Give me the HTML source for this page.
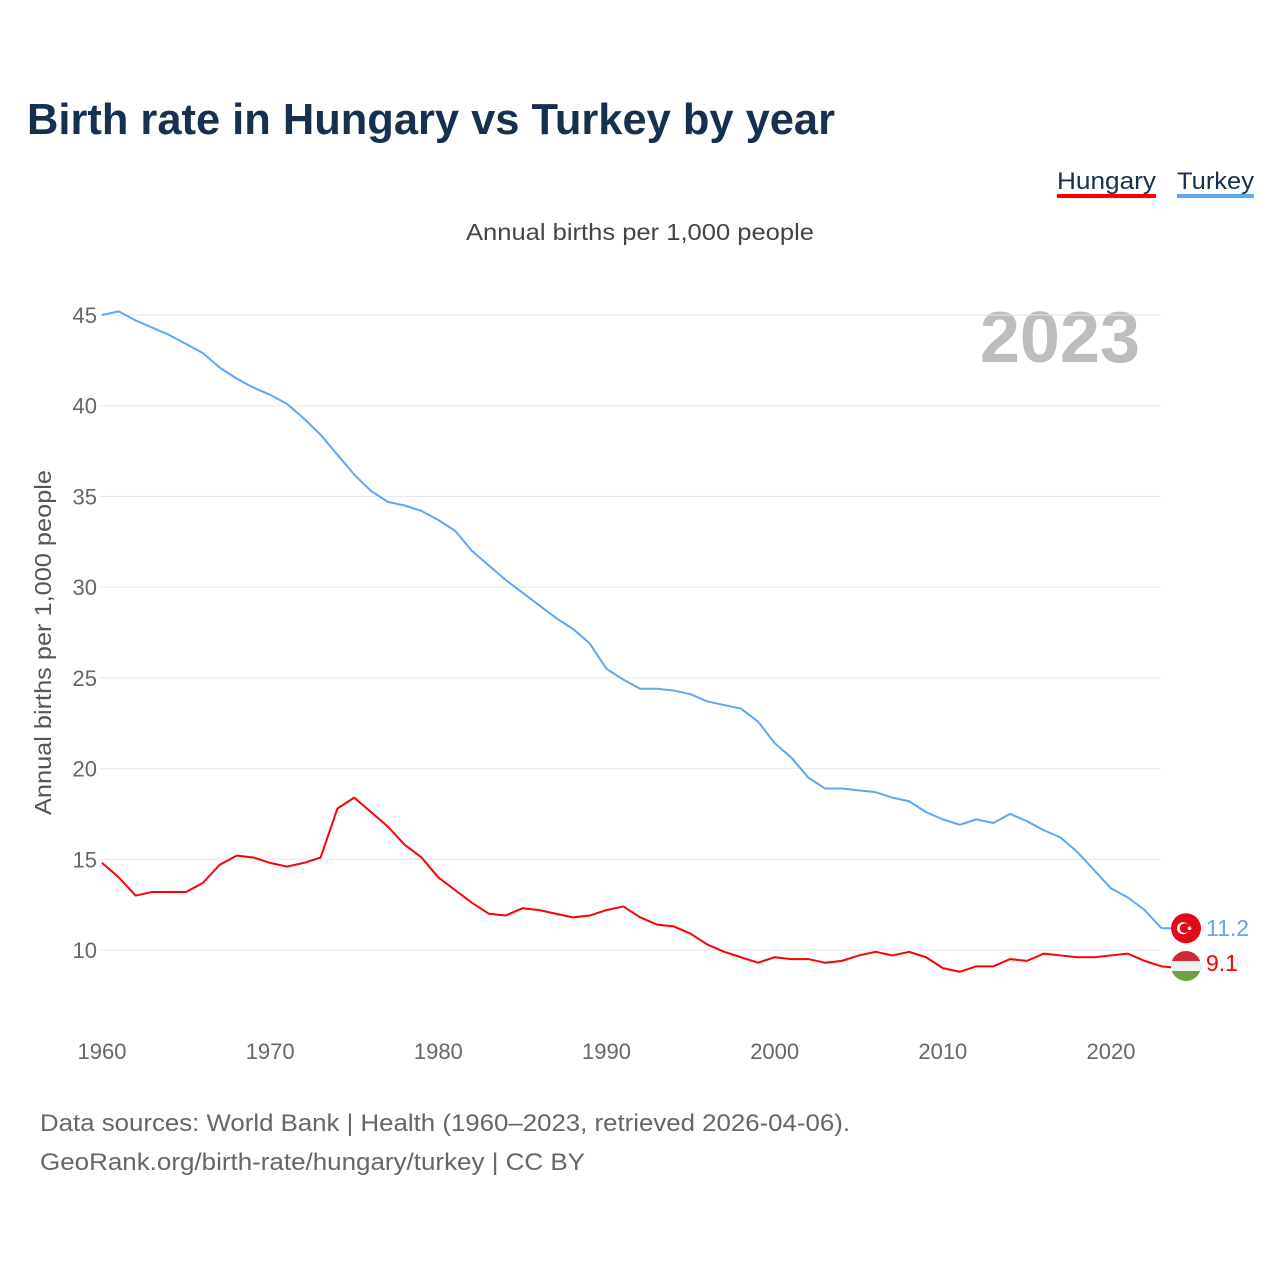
<!DOCTYPE html>
<html><head><meta charset="utf-8"><style>
body{margin:0;background:#fff;font-family:"Liberation Sans",sans-serif;}
svg text{font-family:"Liberation Sans",sans-serif;}
</style></head><body>
<svg width="1280" height="1280" viewBox="0 0 1280 1280" id="chart">
<text x="27" y="134" font-size="44" font-weight="bold" fill="#17304f" textLength="808" lengthAdjust="spacingAndGlyphs">Birth rate in Hungary vs Turkey by year</text>
<g>
<text x="1057" y="189" font-size="24" fill="#17304f" textLength="99" lengthAdjust="spacingAndGlyphs">Hungary</text>
<rect x="1057" y="194" width="99" height="4" fill="#ff0000"/>
<text x="1177" y="189" font-size="24" fill="#17304f" textLength="77" lengthAdjust="spacingAndGlyphs">Turkey</text>
<rect x="1177" y="194" width="77" height="4" fill="#5da8ee"/>
</g>
<text x="466" y="240" font-size="23" fill="#444" textLength="348" lengthAdjust="spacingAndGlyphs">Annual births per 1,000 people</text>
<text x="1140" y="362" font-size="72" font-weight="bold" fill="#bdbdbd" text-anchor="end">2023</text>
<text transform="translate(51,815) rotate(-90)" font-size="23" fill="#555" textLength="345" lengthAdjust="spacingAndGlyphs">Annual births per 1,000 people</text>
<g id="grid"></g><g id="ylab"></g><g id="xlab"></g><g id="lines"></g><g id="ends"></g>
<text x="40" y="1131" font-size="24" fill="#666" textLength="810" lengthAdjust="spacingAndGlyphs">Data sources: World Bank | Health (1960–2023, retrieved 2026-04-06).</text>
<text x="40" y="1170" font-size="24" fill="#666" textLength="545" lengthAdjust="spacingAndGlyphs">GeoRank.org/birth-rate/hungary/turkey | CC BY</text>
</svg>
<script>
const years=[];for(let y=1960;y<=2023;y++)years.push(y);
const turkey=[45.0,45.2,44.7,44.3,43.9,43.4,42.9,42.1,41.5,41.0,40.6,40.1,39.3,38.4,37.3,36.2,35.3,34.7,34.5,34.2,33.7,33.1,32.0,31.2,30.4,29.7,29.0,28.3,27.7,26.9,25.5,24.9,24.4,24.4,24.3,24.1,23.7,23.5,23.3,22.6,21.4,20.6,19.5,18.9,18.9,18.8,18.7,18.4,18.2,17.6,17.2,16.9,17.2,17.0,17.5,17.1,16.6,16.2,15.4,14.4,13.4,12.9,12.2,11.2];
const hungary=[14.8,14.0,13.0,13.2,13.2,13.2,13.7,14.7,15.2,15.1,14.8,14.6,14.8,15.1,17.8,18.4,17.6,16.8,15.8,15.1,14.0,13.3,12.6,12.0,11.9,12.3,12.2,12.0,11.8,11.9,12.2,12.4,11.8,11.4,11.3,10.9,10.3,9.9,9.6,9.3,9.6,9.5,9.5,9.3,9.4,9.7,9.9,9.7,9.9,9.6,9.0,8.8,9.1,9.1,9.5,9.4,9.8,9.7,9.6,9.6,9.7,9.8,9.4,9.1];
const yTicks=[10,15,20,25,30,35,40,45];
const xTicks=[1960,1970,1980,1990,2000,2010,2020];
const NS='http://www.w3.org/2000/svg';
const xs=y=>102+(y-1960)*(1111-102)/60;
const ys=v=>950-(v-10)*(635/35);
function mk(t,a,p){const e=document.createElementNS(NS,t);for(const k in a)e.setAttribute(k,a[k]);p.appendChild(e);return e;}
const G=document.getElementById('grid'),YL=document.getElementById('ylab'),XL=document.getElementById('xlab'),L=document.getElementById('lines'),E=document.getElementById('ends');
yTicks.forEach(t=>{
 const l=mk('line',{x1:100,x2:1161,y1:ys(t),y2:ys(t),stroke:'#e6e6e6','stroke-width':1},G);
 
 
 const tx=mk('text',{x:97,y:ys(t)+8,'font-size':22,fill:'#666','text-anchor':'end'},YL);tx.textContent=t;
 
 
});
xTicks.forEach(t=>{
 const tx=mk('text',{x:xs(t),y:1059,'font-size':22,fill:'#666','text-anchor':'middle'},XL);tx.textContent=t;
 
 
});
function line(d,c,n){const p=mk('polyline',{points:d.map((v,i)=>xs(years[i])+','+ys(v)).join(' '),fill:'none',stroke:c,'stroke-width':2,'stroke-linejoin':'round'},L);
 
 }
line(turkey,'#5da8ee','turkey-line');line(hungary,'#ff0000','hungary-line');
const lx=xs(2023);
const tyv=ys(turkey[turkey.length-1]);
mk('line',{x1:lx,y1:tyv,x2:1172,y2:tyv,stroke:'#5da8ee','stroke-width':2},E);
const tf=mk('g',{},E);


mk('circle',{cx:1186,cy:tyv,r:15,fill:'#e30a17'},tf);
mk('circle',{cx:1183,cy:tyv,r:6,fill:'#fff'},tf);
mk('circle',{cx:1184.6,cy:tyv,r:4.8,fill:'#e30a17'},tf);
mk('circle',{cx:1189.5,cy:tyv,r:1.8,fill:'#fff'},tf);
const tt=mk('text',{x:1206,y:tyv+8,'font-size':23,fill:'#5da8ee'},E);tt.textContent=turkey[turkey.length-1].toFixed(1);


const hyv=ys(hungary[hungary.length-1]);
mk('line',{x1:lx,y1:hyv,x2:1172,y2:hyv+1,stroke:'#ff0000','stroke-width':2},E);
const hf=mk('g',{},E);


const cp=mk('clipPath',{id:'hc'},hf);mk('circle',{cx:1186,cy:966,r:15},cp);
mk('rect',{x:1171,y:951,width:30,height:10,fill:'#ce2939','clip-path':'url(#hc)'},hf);
mk('rect',{x:1171,y:961,width:30,height:10,fill:'#f2f2f2','clip-path':'url(#hc)'},hf);
mk('rect',{x:1171,y:971,width:30,height:10,fill:'#6fa23f','clip-path':'url(#hc)'},hf);
const ht=mk('text',{x:1206,y:971,'font-size':23,fill:'#ff0000'},E);ht.textContent=hungary[hungary.length-1].toFixed(1);


</script>
</body></html>
